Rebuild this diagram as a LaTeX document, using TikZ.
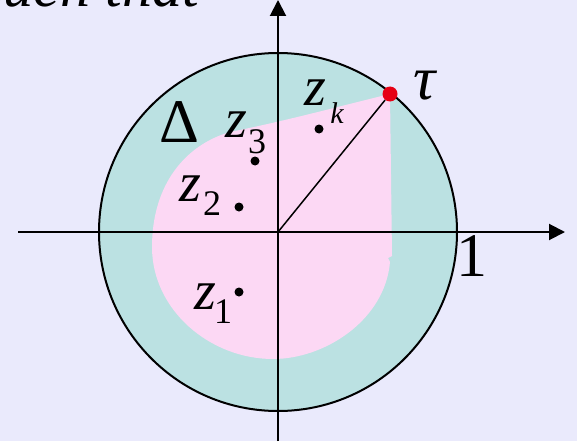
\documentclass[tikz,border=0pt]{standalone}
\usepackage{fontspec}
\setmainfont{Liberation Serif}
\usetikzlibrary{arrows.meta}
\definecolor{bgcol}{RGB}{234,234,252}
\definecolor{diskteal}{RGB}{187,225,226}
\definecolor{regionpink}{RGB}{252,216,244}
\definecolor{taured}{RGB}{230,0,20}
\tikzset{
  axis/.style={line width=2pt,-{Triangle[length=16pt,width=16pt]}},
  dot/.style={circle,fill=black,inner sep=0pt,minimum size=9pt},
  reddot/.style={circle,fill=taured,inner sep=0pt,minimum size=15pt},
  zlab/.style={inner sep=0pt,font=\fontsize{56}{56}\selectfont\itshape},
  sublab/.style={inner sep=0pt,font=\fontsize{36}{36}\selectfont},
  sublabit/.style={inner sep=0pt,font=\fontsize{30}{30}\selectfont\itshape},
  biglab/.style={inner sep=0pt,font=\fontsize{62}{62}\selectfont},
}
\begin{document}
\begin{tikzpicture}[x=1pt,y=-1pt]
\fill[bgcol] (0,0) rectangle (577,441);
\useasboundingbox (0,0) rectangle (577,441);
\clip (0,0) rectangle (577,441);
\node[anchor=base east,inner sep=0pt,font=\fontsize{60}{60}\selectfont\itshape] (st) at (199,7) {such that};
\coordinate (O) at (278,232);
\fill[diskteal] (O) circle (179pt);
\fill[regionpink] (390,94) -- (392,256) -- (388,258) -- (390,262)
  .. controls (385,320) and (325,359) .. (273,359)
  .. controls (210,359) and (152,310) .. (152,247)
  .. controls (152,185) and (185,145) .. (230,132)
  .. controls (290,120) and (340,106) .. (390,94) -- cycle;
\draw[line width=2pt] (O) circle (179pt);
\coordinate (xl) at (18,232);
\coordinate (xr) at (565,232);
\coordinate (yb) at (278,441);
\coordinate (yt) at (278,0);
\draw[axis] (xl) -- (xr);
\draw[axis] (yb) -- (yt);
\node[reddot] (tau) at (390,94) {};
\draw[line width=1.5pt] (O) -- (tau);
\node[dot] (zk) at (319,129) {};
\node[dot] (z3) at (255,161) {};
\node[dot] (z2) at (239,207) {};
\node[dot] (z1) at (239,292) {};
\node[zlab] (zkz) at (315,93) {z};
\node[sublabit] (zks) at (337,113) {k};
\node[zlab] (z3z) at (236,125) {z};
\node[sublab] (z3s) at (257,142) {3};
\node[zlab] (z2z) at (190,189) {z};
\node[sublab] (z2s) at (212,204) {2};
\node[zlab] (z1z) at (205,297) {z};
\node[sublab] (z1s) at (223,312) {1};
\node[biglab] (delta) at (179,122) {Δ};
\node[biglab] (one) at (472,256) {1};
\node[biglab,font=\fontsize{62}{62}\selectfont\itshape] (taulab) at (425,86) {τ};
\end{tikzpicture}
\end{document}
